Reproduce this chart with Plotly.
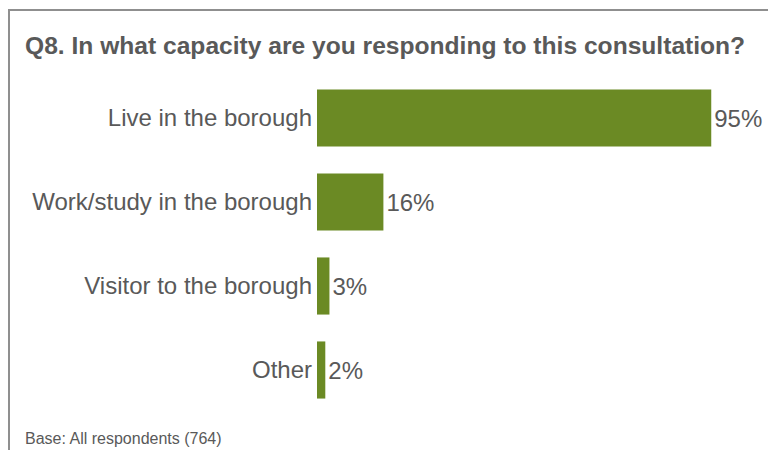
import plotly.graph_objects as go

categories = ["Live in the borough", "Work/study in the borough", "Visitor to the borough", "Other"]
values = [95, 16, 3, 2]
value_labels = ["95%", "16%", "3%", "2%"]
title_text = "Q8. In what capacity are you responding to this consultation?"
base_text = "Base: All respondents (764)"

OFF = 8  # page body margin
W, H = 776 - 2 * OFF, 458 - 2 * OFF
L, T = 317 - OFF, 76 - OFF
pw, ph = 415, 336
R, B = W - L - pw, H - T - ph

def px(x):
    return (x - OFF - L) / pw

def py(y):
    return (H - B - (y - OFF)) / ph

TEXT = "#595959"
GREEN = "#6B8A24"
BORDER = "#8f8f8f"
FONT = "Liberation Sans, Arial, sans-serif"

fig = go.Figure(go.Bar(
    y=categories, x=values, orientation="h",
    marker=dict(color=GREEN, line=dict(width=0)),
    text=value_labels, textposition="outside", cliponaxis=False,
    textfont=dict(size=24, color=TEXT, family=FONT),
    width=0.68,
))

fig.update_layout(
    width=W, height=H,
    margin=dict(l=L, r=R, t=T, b=B, autoexpand=False),
    paper_bgcolor="white", plot_bgcolor="white",
    showlegend=False,
    font=dict(family=FONT, color=TEXT),
    xaxis=dict(range=[0, 100], visible=False, showgrid=False, zeroline=False),
    yaxis=dict(autorange="reversed", showgrid=False, zeroline=False, showline=False,
               ticks="", tickfont=dict(size=24, color=TEXT, family=FONT),
               ticklabelstandoff=4),
    shapes=[
        dict(type="line", xref="paper", yref="paper", x0=px(8), x1=px(780), y0=py(10), y1=py(10),
             line=dict(color=BORDER, width=2)),
        dict(type="line", xref="paper", yref="paper", x0=px(9), x1=px(9), y0=py(10), y1=py(462),
             line=dict(color=BORDER, width=2)),
    ],
    annotations=[
        dict(text="<b>" + title_text + "</b>", xref="paper", yref="paper", x=px(23), y=py(45),
             xanchor="left", yanchor="middle", showarrow=False,
             font=dict(size=24.6, color=TEXT, family=FONT)),
        dict(text=base_text, xref="paper", yref="paper", x=px(23), y=py(438),
             xanchor="left", yanchor="middle", showarrow=False,
             font=dict(size=16, color=TEXT, family=FONT)),
    ],
)

fig.write_html("out.html")
